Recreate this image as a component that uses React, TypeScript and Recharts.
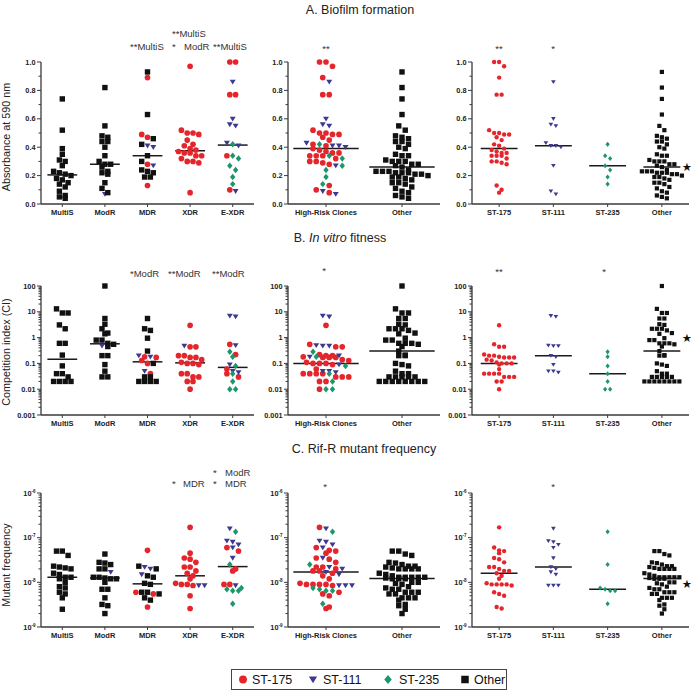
import React from 'react'
import { ScatterChart, Scatter, XAxis, YAxis, ReferenceLine } from 'recharts'

// categories
const classes = ['MultiS', 'ModR', 'MDR', 'XDR', 'E-XDR']
const clones = ['High-Risk Clones', 'Other']
const sequenceTypes = ['ST-175', 'ST-111', 'ST-235', 'Other']

type Cat = { st175?: number[]; st111?: number[]; st235?: number[]; other?: number[] }

// A. Biofilm formation (absorbance at 590 nm), by resistance class and clone
const bioMultiS: Cat = { other: [0.74, 0.52, 0.39, 0.35, 0.31, 0.3, 0.27, 0.23, 0.22, 0.21, 0.2, 0.18, 0.17, 0.15, 0.14, 0.12, 0.09, 0.06, 0.05, 0.04] }
const bioModR: Cat = { other: [0.82, 0.55, 0.48, 0.47, 0.44, 0.44, 0.4, 0.34, 0.3, 0.28, 0.28, 0.26, 0.23, 0.22, 0.21, 0.15, 0.11, 0.08], st111: [0.07] }
const bioMDR: Cat = { other: [0.93, 0.63, 0.46, 0.42, 0.34, 0.3, 0.24, 0.23, 0.22, 0.19, 0.19], st175: [0.89, 0.49, 0.47, 0.28, 0.13], st111: [0.41, 0.4, 0.27] }
const bioXDR: Cat = { st175: [0.97, 0.52, 0.5, 0.5, 0.49, 0.45, 0.42, 0.41, 0.39, 0.38, 0.37, 0.36, 0.36, 0.34, 0.34, 0.32, 0.3, 0.3, 0.29, 0.08] }
const bioEXDR: Cat = { st175: [1.0, 1.0, 0.77, 0.77, 0.34, 0.1], st111: [0.86, 0.6, 0.56, 0.55, 0.43, 0.41, 0.09], st235: [0.42, 0.34, 0.32, 0.27, 0.24, 0.19, 0.14] }

// B. In vitro fitness (competition index)
const ciMultiS: Cat = { other: [13, 9, 9, 3.1, 2.2, 0.6, 0.6, 0.21, 0.08, 0.04, 0.04, 0.03, 0.02, 0.02, 0.02, 0.02] }
const ciModR: Cat = { other: [100, 5.5, 3.3, 2.2, 1.5, 1.4, 0.8, 0.8, 0.6, 0.55, 0.45, 0.2, 0.2, 0.09, 0.05, 0.03, 0.03], st111: [0.48] }
const ciMDR: Cat = { other: [5.5, 2.2, 1.9, 0.95, 0.3, 0.1, 0.03, 0.03, 0.02, 0.02, 0.02, 0.02], st175: [0.18, 0.17, 0.13, 0.1, 0.04], st111: [0.2, 0.18, 0.05] }
const ciXDR: Cat = { st175: [3.0, 0.44, 0.44, 0.2, 0.2, 0.17, 0.17, 0.14, 0.11, 0.1, 0.1, 0.09, 0.04, 0.04, 0.03, 0.03, 0.02, 0.02, 0.01], st111: [0.48] }
const ciEXDR: Cat = { st175: [0.55, 0.22, 0.06, 0.04, 0.03], st111: [7, 6.5, 0.5, 0.09, 0.05, 0.045], st235: [0.28, 0.18, 0.08, 0.04, 0.02, 0.01, 0.01] }

// C. Rif-R mutant frequency
const mfMultiS: Cat = { other: [5e-8, 5e-8, 4e-8, 2.3e-8, 2.2e-8, 2.1e-8, 2e-8, 1.6e-8, 1.5e-8, 1.3e-8, 1.3e-8, 1.2e-8, 1e-8, 8e-9, 7.5e-9, 6e-9, 5.5e-9, 4.5e-9, 2.5e-9] }
const mfModR: Cat = { other: [4.3e-8, 2.8e-8, 2.7e-8, 2.5e-8, 2e-8, 2e-8, 1.3e-8, 1.3e-8, 1.25e-8, 1.2e-8, 1.2e-8, 1e-8, 7e-9, 7e-9, 4.5e-9, 3.2e-9, 3e-9, 2e-9], st111: [1.7e-8] }
const mfMDR: Cat = { other: [2.3e-8, 2e-8, 1.4e-8, 1.3e-8, 9.5e-9, 9e-9, 6e-9, 6e-9, 5.5e-9, 4.5e-9, 4e-9], st175: [5.2e-8, 6e-9, 5.5e-9, 2.8e-9], st111: [2.2e-8, 2e-8, 1.5e-8] }
const mfXDR: Cat = { st175: [1.7e-7, 4.5e-8, 3.5e-8, 3.3e-8, 2.8e-8, 2.2e-8, 2.2e-8, 1.8e-8, 1.6e-8, 1.4e-8, 1.2e-8, 9.5e-9, 9e-9, 9e-9, 8.5e-9, 5e-9, 2.6e-9], st111: [8.5e-9, 8.5e-9] }
const mfEXDR: Cat = { st175: [6e-8, 5e-8, 2e-8, 1.8e-8, 9e-9, 9e-9], st111: [1.6e-7, 8.5e-8, 8e-8, 7e-8, 6e-8, 3.5e-8, 8.5e-9], st235: [1.35e-7, 2.5e-8, 7.5e-9, 7e-9, 6.5e-9, 6.5e-9, 3.3e-9] }

// tick values
const bioTicks = [0, 0.2, 0.4, 0.6, 0.8, 1.0]
const bioMinor = [0.1, 0.3, 0.5, 0.7, 0.9]
const ciTicks = [0.001, 0.01, 0.1, 1, 10, 100]
const mfTicks = [1e-9, 1e-8, 1e-7, 1e-6]

const AXIS = '#3a3a3a'
const FONT = '"Liberation Sans", Arial, sans-serif'

const GROUPS = [
  { key: 'st175', label: 'ST-175', color: '#e4262c', kind: 'circle' },
  { key: 'st111', label: 'ST-111', color: '#3c3a90', kind: 'triangle' },
  { key: 'st235', label: 'ST-235', color: '#1c966a', kind: 'diamond' },
  { key: 'other', label: 'Other', color: '#111111', kind: 'square' },
] as const

function logMinor(lo: number, hi: number) {
  const out: number[] = []
  for (let e = lo; e < hi; e++) for (let m = 2; m <= 9; m++) out.push(m * Math.pow(10, e))
  return out
}

const bioAxis = {
  scale: 'linear', domain: [0, 1], major: bioTicks, minor: bioMinor, tf: (v: number) => v,
  label: (v: number) => v.toFixed(1),
}
const ciAxis = {
  scale: 'log', domain: [0.001, 100], major: ciTicks, minor: logMinor(-3, 2), tf: Math.log10,
  label: (v: number) => String(v),
}
const mfAxis = {
  scale: 'log', domain: [1e-9, 1e-6], major: mfTicks, minor: logMinor(-9, -6), tf: Math.log10,
  label: (v: number) => (
    <>
      10<tspan dy={-3} fontSize={4.5}>{Math.round(Math.log10(v))}</tspan>
    </>
  ),
}

const pool = (rows: Cat[], key: keyof Cat) => rows.flatMap((r) => r[key] || [])
const byClone = (rows: Cat[]): Cat[] => [
  { st175: pool(rows, 'st175'), st111: pool(rows, 'st111'), st235: pool(rows, 'st235') },
  { other: pool(rows, 'other') },
]
const bySt = (rows: Cat[]): Cat[] => [
  { st175: pool(rows, 'st175') },
  { st111: pool(rows, 'st111') },
  { st235: pool(rows, 'st235') },
  { other: pool(rows, 'other') },
]

// dot-plot layout: points with close values share a row and are spread sideways
function layout(cats: Cat[], tf: (v: number) => number, h: number, dx: number) {
  const pts: Record<string, { x: number; y: number }[]> = { st175: [], st111: [], st235: [], other: [] }
  const medians: number[] = []
  cats.forEach((c, i) => {
    const items: { v: number; g: string }[] = []
    GROUPS.forEach((g) => (c[g.key] || []).forEach((v) => items.push({ v, g: g.key })))
    items.sort((a, b) => b.v - a.v)
    const vals = items.map((it) => it.v).sort((a, b) => a - b)
    const n = vals.length
    medians.push(n % 2 ? vals[(n - 1) / 2] : (vals[n / 2 - 1] + vals[n / 2]) / 2)
    let j = 0
    while (j < items.length) {
      const start = tf(items[j].v)
      let k = j
      while (k < items.length && start - tf(items[k].v) <= h) k++
      const row = items.slice(j, k)
      row.forEach((it, r) => pts[it.g].push({ x: i + (r - (row.length - 1) / 2) * dx, y: it.v }))
      j = k
    }
  })
  return { pts, medians }
}

function Marker({ cx, cy, kind, color, size }: any) {
  if (cx == null || cy == null) return null
  const r = size / 2
  if (kind === 'circle') return <circle cx={cx} cy={cy} r={r * 1.05} fill={color} />
  if (kind === 'triangle')
    return <path d={`M${cx - r * 1.1},${cy - r * 0.8}L${cx + r * 1.1},${cy - r * 0.8}L${cx},${cy + r}Z`} fill={color} />
  if (kind === 'diamond')
    return <path d={`M${cx},${cy - r * 1.2}L${cx + r},${cy}L${cx},${cy + r * 1.2}L${cx - r},${cy}Z`} fill={color} />
  return <rect x={cx - r} y={cy - r} width={size} height={size} fill={color} />
}

function YTick(props: any) {
  const { x, y, payload, axis } = props
  const v = payload.value
  const major = axis.major.some((m: number) => Math.abs(m - v) <= Math.abs(m) * 1e-6 + 1e-12)
  return (
    <g>
      <line x1={x - (major ? 4 : 2.5)} x2={x} y1={y} y2={y} stroke={AXIS} strokeWidth={1} />
      {major && (
        <text x={x - 5.5} y={y + 2.5} textAnchor="end" fontSize={7.3} fontWeight="bold" fontFamily={FONT} fill="#222">
          {axis.label(v)}
        </text>
      )}
    </g>
  )
}

function Panel({ left, right, top, bottom, names, cats, axis, dxPx, size, half }: any) {
  const n = names.length
  const step = (right - left) / n
  const tRange = axis.tf(axis.domain[1]) - axis.tf(axis.domain[0])
  const h = (4.5 * tRange) / (bottom - top)
  const { pts, medians } = layout(cats, axis.tf, h, dxPx / step)
  return (
    <div style={{ position: 'absolute', left: left - 40, top: top - 10 }}>
      <ScatterChart width={right - left + 42} height={bottom - top + 30} margin={{ top: 10, right: 2, bottom: 0, left: 0 }}>
        <XAxis
          type="number"
          dataKey="x"
          domain={[-0.5, n - 0.5]}
          ticks={names.map((_: string, i: number) => i)}
          interval={0}
          tickFormatter={(i: number) => names[Math.round(i)]}
          height={20}
          tickSize={3}
          tickMargin={3}
          axisLine={{ stroke: AXIS, strokeWidth: 1.3 }}
          tickLine={{ stroke: AXIS }}
          tick={{ fontSize: 7.5, fontWeight: 'bold', fontFamily: FONT, fill: '#222' }}
        />
        <YAxis
          type="number"
          dataKey="y"
          scale={axis.scale}
          domain={axis.domain}
          ticks={[...axis.major, ...axis.minor]}
          interval={0}
          width={40}
          tickSize={0}
          tickMargin={0}
          tickLine={false}
          axisLine={{ stroke: AXIS, strokeWidth: 1.3 }}
          tick={(p: any) => <YTick {...p} axis={axis} />}
        />
        {GROUPS.map((g) =>
          pts[g.key].length ? (
            <Scatter
              key={g.key}
              data={pts[g.key]}
              isAnimationActive={false}
              shape={(p: any) => <Marker {...p} kind={g.kind} color={g.color} size={size} />}
            />
          ) : null
        )}
        {medians.map((m, i) => (
          <ReferenceLine
            key={i}
            segment={[{ x: i - half, y: m }, { x: i + half, y: m }]}
            stroke="#1a1a1a"
            strokeWidth={1.5}
          />
        ))}
      </ScatterChart>
    </div>
  )
}

function Row({ top, bottom, rows, axis }: any) {
  return (
    <>
      <Panel left={41} right={254} top={top} bottom={bottom} names={classes} cats={rows} axis={axis} dxPx={5.8} size={5.4} half={0.35} />
      <Panel left={288} right={440} top={top} bottom={bottom} names={clones} cats={byClone(rows)} axis={axis} dxPx={6.5} size={5.4} half={0.43} />
      <Panel left={472} right={689} top={top} bottom={bottom} names={sequenceTypes} cats={bySt(rows)} axis={axis} dxPx={5} size={4.2} half={0.34} />
    </>
  )
}

const txt = { fontFamily: FONT, fill: '#333' }

function Overlay() {
  const note = { ...txt, fontSize: 9.5 }
  const yTitle = (label: string, cy: number) => (
    <text x={10} y={cy} transform={`rotate(-90 10 ${cy})`} textAnchor="middle" fontSize={10.8} {...txt} fill="#222">
      {label}
    </text>
  )
  const star = (y: number) => (
    <text x={687} y={y + 4} textAnchor="middle" fontSize={11.5} fontFamily="DejaVu Sans" fill="#111">★</text>
  )
  return (
    <svg width={691} height={691} style={{ position: 'absolute', left: 0, top: 0, pointerEvents: 'none' }}>
      <text x={360} y={14} textAnchor="middle" fontSize={12.5} {...txt} fill="#222">A. Biofilm formation</text>
      <text x={340} y={242} textAnchor="middle" fontSize={12.5} {...txt} fill="#222">
        B. <tspan fontStyle="italic">In vitro</tspan> fitness
      </text>
      <text x={364} y={453} textAnchor="middle" fontSize={12.5} {...txt} fill="#222">C. Rif-R mutant frequency</text>

      {yTitle('Absorbance at 590 nm', 137)}
      {yTitle('Competition index (CI)', 352)}
      {yTitle('Mutant frequency', 565)}

      {/* row A significance */}
      <text x={130} y={50} {...note}>**MultiS</text>
      <text x={172} y={37} {...note}>**MultiS</text>
      <text x={172} y={50} {...note}>*</text>
      <text x={184} y={50} {...note}>ModR</text>
      <text x={213} y={50} {...note}>**MultiS</text>
      <text x={326} y={52} textAnchor="middle" {...note}>**</text>
      <text x={499} y={52} textAnchor="middle" {...note}>**</text>
      <text x={553} y={52} textAnchor="middle" {...note}>*</text>

      {/* row B significance */}
      <text x={130} y={277} {...note}>*ModR</text>
      <text x={168} y={277} {...note}>**ModR</text>
      <text x={212} y={277} {...note}>**ModR</text>
      <text x={324} y={274} textAnchor="middle" {...note}>*</text>
      <text x={499} y={275} textAnchor="middle" {...note}>**</text>
      <text x={604} y={275} textAnchor="middle" {...note}>*</text>

      {/* row C significance */}
      <text x={172} y={487} {...note}>*</text>
      <text x={183} y={487} {...note}>MDR</text>
      <text x={213} y={476} {...note}>*</text>
      <text x={225} y={476} {...note}>ModR</text>
      <text x={213} y={487} {...note}>*</text>
      <text x={225} y={487} {...note}>MDR</text>
      <text x={325} y={490} textAnchor="middle" {...note}>*</text>
      <text x={553} y={490} textAnchor="middle" {...note}>*</text>

      {star(167)}
      {star(338)}
      {star(584)}

      {/* legend */}
      <rect x={231.5} y={669.5} width={275} height={20} fill="#fff" stroke="#444" strokeWidth={1} />
      {GROUPS.map((g, i) => {
        const mx = [243, 313, 388, 465][i]
        const tx = [252, 323, 399, 474][i]
        return (
          <g key={g.key}>
            <Marker cx={mx} cy={679.5} kind={g.kind} color={g.color} size={7.5} />
            <text x={tx} y={684} fontSize={12.5} fontFamily={FONT} fill="#111">{g.label}</text>
          </g>
        )
      })}
    </svg>
  )
}

export default function App() {
  return (
    <div style={{ position: 'absolute', left: 0, top: 0, width: 691, height: 691, background: '#fff' }}>
      <Row top={62} bottom={204} rows={[bioMultiS, bioModR, bioMDR, bioXDR, bioEXDR]} axis={bioAxis} />
      <Row top={286} bottom={415} rows={[ciMultiS, ciModR, ciMDR, ciXDR, ciEXDR]} axis={ciAxis} />
      <Row top={493} bottom={627} rows={[mfMultiS, mfModR, mfMDR, mfXDR, mfEXDR]} axis={mfAxis} />
      <Overlay />
    </div>
  )
}
